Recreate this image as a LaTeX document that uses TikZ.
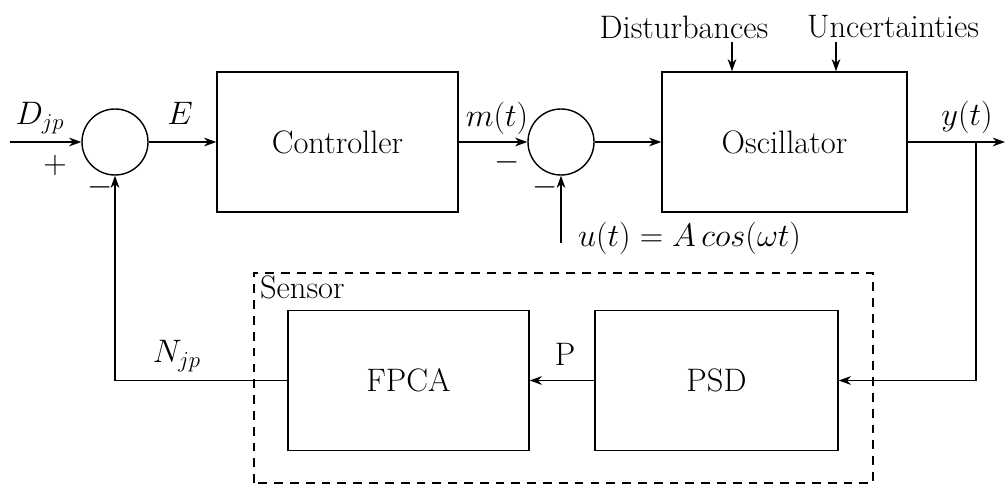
\RequirePackage{fix-cm}
\documentclass[tikz,border=0pt]{standalone}
\usepackage{tikz}
\usetikzlibrary{arrows.meta}

\begin{document}
\begin{tikzpicture}[font=\fontsize{18.5}{22}\selectfont,
  blk/.style={draw=black, line width=0.8pt, minimum width=#1, minimum height=2.8cm, inner sep=0pt},
  sumc/.style={draw=black, line width=0.8pt, circle, minimum size=1.32cm, inner sep=0pt},
  flow/.style={-{Stealth[length=7pt, width=5pt]}, line width=0.8pt},
  lab/.style={inner sep=1pt}]
\useasboundingbox (0,0) rectangle (20.14,9.72);

% ---- forward path
\node[sumc] (sum1) at (2.30,6.88) {};
\node[blk=4.82cm] (ctrl) at (6.75,6.88) {Controller};
\node[sumc] (sum2) at (11.22,6.88) {};
\node[blk=4.90cm] (osc) at (15.69,6.88) {Oscillator};

% ---- sensor (x 5.08..17.46)
\draw[line width=0.7pt, dash pattern=on 5pt off 4pt] (5.08,0.06) rectangle (17.46,4.26);
\node[lab, anchor=north west] (sens) at (5.16,4.24) {Sensor};
\node[blk=4.82cm] (fpca) at (8.17,2.11) {FPCA};
\node[blk=4.86cm] (psd) at (14.33,2.11) {PSD};

% ---- free ends
\coordinate (din) at (0.20,6.88);
\coordinate (yout) at (20.10,6.88);
\coordinate (tap) at (19.52,6.88);
\coordinate (uin) at (11.22,4.86);
\coordinate (dtop) at (14.64,8.88);
\coordinate (utop) at (16.72,8.88);

% ---- disturbances
\node[lab] (dist) at (13.68,9.18) {Disturbances};
\node[lab] (unc) at (17.86,9.18) {Uncertainties};
\draw[flow] (dtop) -- (dtop |- osc.north);
\draw[flow] (utop) -- (utop |- osc.north);

% ---- connectors
\draw[flow] (din) -- (sum1.west);
\draw[flow] (sum1.east) -- (ctrl.west);
\draw[flow] (ctrl.east) -- (sum2.west);
\draw[flow] (sum2.east) -- (osc.west);
\draw[flow] (osc.east) -- (yout);
\draw[flow] (uin) -- (sum2.south);
\draw[flow] (tap) |- (psd.east);
\draw[flow] (psd.west) -- (fpca.east);
\draw[flow] (fpca.west) -| (sum1.south);

% ---- signal labels
\node[lab] (ldjp) at (0.80,7.36) {$D_{jp}$};
\node[lab] (lplus) at (1.10,6.42) {$+$};
\node[lab] (lm1) at (2.00,5.98) {$-$};
\node[lab] (le) at (3.60,7.46) {$E$};
\node[lab] (lmt) at (9.94,7.36) {$m(t)$};
\node[lab] (lm2) at (10.14,6.48) {$-$};
\node[lab] (lm3) at (10.90,5.98) {$-$};
\node[lab, anchor=west] (lu) at (11.52,4.96) {$u(t) = A\,cos(\omega t)$};
\node[lab] (lyt) at (19.34,7.38) {$y(t)$};
\node[lab] (lnjp) at (3.54,2.60) {$N_{jp}$};
\node[lab] (lp) at (11.30,2.64) {P};
\end{tikzpicture}
\end{document}
